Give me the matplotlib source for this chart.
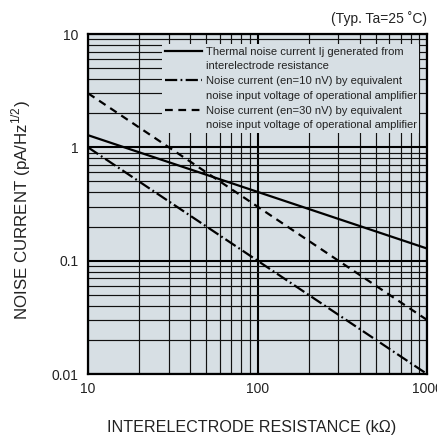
import matplotlib
matplotlib.use("Agg")
import matplotlib.pyplot as plt
from matplotlib.lines import Line2D
from matplotlib.ticker import LogLocator, NullFormatter, FixedLocator, FixedFormatter

plt.rcParams['font.family'] = ['Liberation Sans', 'DejaVu Sans']
plt.rcParams['mathtext.fontset'] = 'custom'
plt.rcParams['mathtext.rm'] = 'Liberation Sans'

resistance = [10, 1000]
thermal = [1.28, 0.128]
en10 = [1.0, 0.01]
en30 = [3.0, 0.03]
labels_first = ["Thermal noise current Ij generated from",
                "Noise current (en=10 nV) by equivalent",
                "Noise current (en=30 nV) by equivalent"]
labels_second = ["interelectrode resistance",
                 "noise input voltage of operational amplifier",
                 "noise input voltage of operational amplifier"]
xticks = [10, 100, 1000]
xticklabels = ["10", "100", "1000"]
yticks = [0.01, 0.1, 1, 10]
yticklabels = ["0.01", "0.1", "1", "10"]

bg = "#d7dfe4"
tc = '#222222'
fig = plt.figure(figsize=(4.37, 4.38), dpi=100)
ax = fig.add_axes([88/437, 1-374/438, (427-88)/437, (374-34)/438])
ax.set_facecolor(bg)
ax.set_xscale('log')
ax.set_yscale('log')
ax.set_xlim(10, 1000)
ax.set_ylim(0.01, 10)

ax.xaxis.set_major_locator(FixedLocator(xticks))
ax.xaxis.set_major_formatter(FixedFormatter(xticklabels))
ax.yaxis.set_major_locator(FixedLocator(yticks))
ax.yaxis.set_major_formatter(FixedFormatter(yticklabels))
ax.xaxis.set_minor_locator(LogLocator(base=10, subs=range(2, 10)))
ax.yaxis.set_minor_locator(LogLocator(base=10, subs=range(2, 10)))
ax.xaxis.set_minor_formatter(NullFormatter())
ax.yaxis.set_minor_formatter(NullFormatter())
ax.tick_params(which='both', length=0, labelsize=10, colors=tc)
ax.tick_params(axis='x', pad=6)
ax.tick_params(axis='y', pad=7)

ax.grid(which='major', color='black', linewidth=1.5)
ax.grid(which='minor', color='#111111', linewidth=0.85)
ax.set_axisbelow(True)
for s in ax.spines.values():
    s.set_linewidth(1.6)

lw = 1.6
styles = [dict(), dict(dashes=(5.5, 1.5, 0.8, 1.5)), dict(dashes=(3.5, 2.5))]
series = [thermal, en10, en30]
handles, labs = [], []
for vals, st, l1, l2 in zip(series, styles, labels_first, labels_second):
    ax.plot(resistance, vals, color='black', lw=lw, **st)
    handles.append(Line2D([], [], color='black', lw=lw, **st))
    labs.append(l1)
    handles.append(Line2D([], [], color='none', lw=0))
    labs.append(l2)

leg = ax.legend(handles, labs, loc='upper left', bbox_to_anchor=(0.218, 0.971),
                prop=dict(family='Liberation Sans', size=8.1),
                facecolor=bg, edgecolor='none', framealpha=1, fancybox=False,
                handlelength=3.3, handletextpad=0.33, labelspacing=0.42,
                borderpad=0.25, borderaxespad=0)
leg.get_frame().set_linewidth(0)
for t in leg.get_texts():
    t.set_color(tc)

ax.set_xlabel("INTERELECTRODE RESISTANCE (k\u03a9)", fontsize=11.6, color=tc)
ax.xaxis.set_label_coords(0.484, -0.156)
ax.xaxis.label.set_va('center')
ax.set_ylabel(r"NOISE CURRENT (pA/Hz$^{\mathregular{1/2}}$)", fontsize=12.2, color=tc)
ax.yaxis.set_label_coords(-0.198, 0.482)
ax.yaxis.label.set_va('center')
fig.text(427/437, 1-19/438, "(Typ. Ta=25 \u02daC)", ha='right', va='center', fontsize=10, color=tc)

fig.savefig("out.png", dpi=100)
